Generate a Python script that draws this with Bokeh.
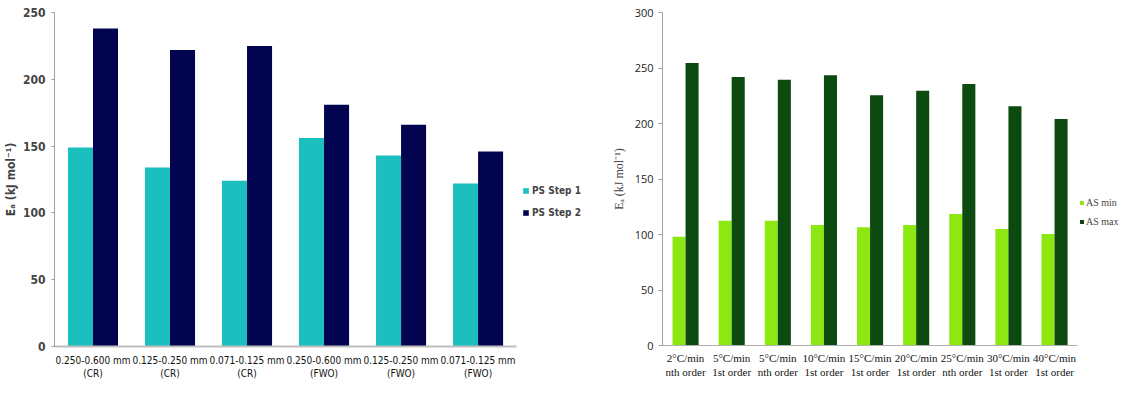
from bokeh.plotting import figure
from bokeh.layouts import row
from bokeh.models import Legend, LegendItem, ColumnDataSource, Range1d, FixedTicker
from bokeh.transform import dodge
from bokeh.embed import file_html
from bokeh.resources import INLINE

# ---- data: left panel (PS) ----
ps_cats = ["0.250-0.600 mm\n(CR)", "0.125-0.250 mm\n(CR)", "0.071-0.125 mm\n(CR)",
           "0.250-0.600 mm\n(FWO)", "0.125-0.250 mm\n(FWO)", "0.071-0.125 mm\n(FWO)"]
ps_step1 = [149, 134, 124, 156, 143, 122]
ps_step2 = [238, 222, 225, 181, 166, 146]
ps_ticks = [0, 50, 100, 150, 200, 250]

# ---- data: right panel (AS) ----
as_cats = ["2°C/min\nnth order", "5°C/min\n1st order", "5°C/min\nnth order",
           "10°C/min\n1st order", "15°C/min\n1st order", "20°C/min\n1st order",
           "25°C/min\nnth order", "30°C/min\n1st order", "40°C/min\n1st order"]
as_min = [98, 112.5, 112.5, 108.5, 106.5, 108.5, 118.5, 105, 100.5]
as_max = [254.5, 242, 239.5, 243.5, 225.5, 229.5, 235.5, 215.5, 204]
as_ticks = [0, 50, 100, 150, 200, 250, 300]

NARROW = "DejaVu Sans Condensed"
SERIF = "Liberation Serif"
SANS = "Open Sans"


def centers(cats):
    return [i + 0.5 for i in range(len(cats))]


# ================= left figure =================
c1 = centers(ps_cats)
n1 = len(ps_cats)
src1 = ColumnDataSource(dict(x=c1, s1=ps_step1, s2=ps_step2))
p1 = figure(frame_width=536, frame_height=334, x_range=Range1d(0, n1 * 1.16), y_range=Range1d(0, 250),
            output_backend="svg", toolbar_location=None,
            min_border_left=52, min_border_top=12, min_border_right=0, min_border_bottom=30)
bw1 = 0.325
r1 = p1.vbar(x=dodge("x", -bw1 / 2), top="s1", width=bw1, source=src1, fill_color="#1BBFBE", line_color=None)
r2 = p1.vbar(x=dodge("x", bw1 / 2), top="s2", width=bw1, source=src1, fill_color="#03044F", line_color=None)
p1.outline_line_color = None
p1.xgrid.grid_line_color = None
p1.ygrid.grid_line_color = None
p1.yaxis.ticker = FixedTicker(ticks=ps_ticks)
p1.yaxis.axis_label = "Eₐ (kJ mol⁻¹)"
p1.yaxis.axis_label_text_font = NARROW
p1.yaxis.axis_label_text_font_style = "bold"
p1.yaxis.axis_label_text_font_size = "12px"
p1.yaxis.axis_label_standoff = 2
p1.yaxis.major_label_text_font = NARROW
p1.yaxis.major_label_text_font_style = "bold"
p1.yaxis.major_label_text_font_size = "12px"
p1.yaxis.major_label_standoff = 6
p1.yaxis.axis_line_color = "#A0A0A0"
p1.yaxis.major_tick_line_color = "#A0A0A0"
p1.yaxis.major_tick_out = 3
p1.yaxis.major_tick_in = 0
p1.yaxis.minor_tick_line_color = None
p1.xaxis.bounds = (0, n1)
p1.xaxis.ticker = FixedTicker(ticks=c1)
p1.xaxis.major_label_overrides = {c: lab for c, lab in zip(c1, ps_cats)}
p1.xaxis.axis_line_color = "#BEBEBE"
p1.xaxis.axis_line_width = 2
p1.xaxis.major_tick_line_color = None
p1.xaxis.major_tick_out = 0
p1.xaxis.major_tick_in = 0
p1.xaxis.minor_tick_line_color = None
p1.xaxis.major_label_text_font = NARROW
p1.xaxis.major_label_text_font_size = "10px"
p1.xaxis.major_label_text_color = "#111111"
p1.xaxis.major_label_standoff = 8
leg1 = Legend(items=[LegendItem(label="PS Step 1", renderers=[r1]),
                     LegendItem(label="PS Step 2", renderers=[r2])],
              location=(468, 128), glyph_width=7, glyph_height=7, spacing=11, padding=2, margin=0,
              label_text_font=NARROW, label_text_font_style="bold", label_text_font_size="10px",
              label_standoff=3, border_line_color=None, background_fill_alpha=0)
p1.add_layout(leg1)

# ================= right figure =================
c2 = centers(as_cats)
n2 = len(as_cats)
src2 = ColumnDataSource(dict(x=c2, mn=as_min, mx=as_max))
p2 = figure(frame_width=467, frame_height=333, x_range=Range1d(0, n2 * 1.125), y_range=Range1d(0, 300),
            output_backend="svg", toolbar_location=None,
            min_border_left=72, min_border_top=11, min_border_right=0, min_border_bottom=30)
bw2 = 0.283
r3 = p2.vbar(x=dodge("x", -bw2 / 2), top="mn", width=bw2, source=src2, fill_color="#8DE812", line_color=None)
r4 = p2.vbar(x=dodge("x", bw2 / 2), top="mx", width=bw2, source=src2, fill_color="#0D4A10", line_color=None)
p2.outline_line_color = None
p2.xgrid.grid_line_color = None
p2.ygrid.grid_line_color = None
p2.yaxis.ticker = FixedTicker(ticks=as_ticks)
p2.yaxis.axis_label = "Eₐ (kJ mol⁻¹)"
p2.yaxis.axis_label_text_font = SERIF
p2.yaxis.axis_label_text_font_style = "normal"
p2.yaxis.axis_label_text_font_size = "12px"
p2.yaxis.axis_label_standoff = 6
p2.yaxis.major_label_text_font = SANS
p2.yaxis.major_label_text_font_size = "11px"
p2.yaxis.major_label_text_color = "#222222"
p2.yaxis.major_label_standoff = 5
p2.yaxis.axis_line_color = "#A0A0A0"
p2.yaxis.major_tick_line_color = "#A0A0A0"
p2.yaxis.major_tick_out = 4
p2.yaxis.major_tick_in = 0
p2.yaxis.minor_tick_line_color = None
p2.xaxis.bounds = (0, n2)
p2.xaxis.ticker = FixedTicker(ticks=c2)
p2.xaxis.major_label_overrides = {c: lab for c, lab in zip(c2, as_cats)}
p2.xaxis.axis_line_color = "#B0B0B0"
p2.xaxis.major_tick_line_color = None
p2.xaxis.major_tick_out = 0
p2.xaxis.major_tick_in = 0
p2.xaxis.minor_tick_line_color = None
p2.xaxis.major_label_text_font = SERIF
p2.xaxis.major_label_text_font_size = "11px"
p2.xaxis.major_label_text_color = "#111111"
p2.xaxis.major_label_standoff = 6
leg2 = Legend(items=[LegendItem(label="AS min", renderers=[r3]),
                     LegendItem(label="AS max", renderers=[r4])],
              location=(417, 118), glyph_width=5, glyph_height=5, spacing=8, padding=1, margin=0,
              label_text_font=SERIF, label_text_font_size="10px",
              label_standoff=2, border_line_color=None, background_fill_alpha=0)
p2.add_layout(leg2)

layout = row(p1, p2, spacing=0)
open("out.html", "w").write(file_html(layout, INLINE))
